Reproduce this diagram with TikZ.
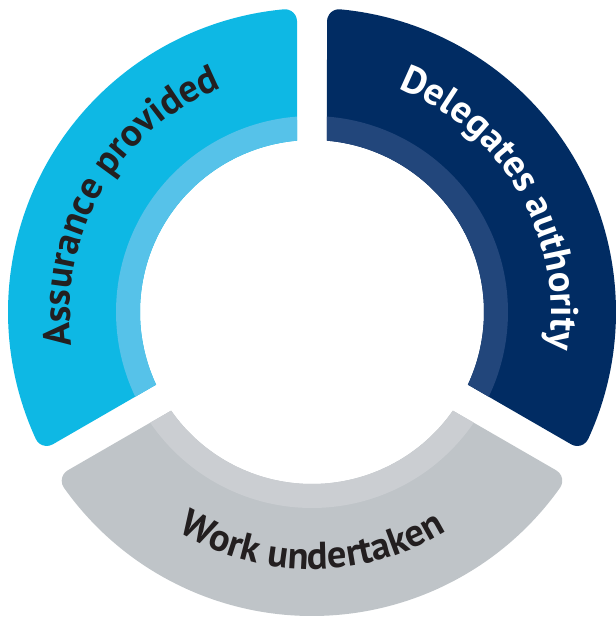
\documentclass[tikz,border=0pt]{standalone}
\usepackage{fontspec}
\newfontfamily\segfont{PT Sans}
\usetikzlibrary{decorations.text}
\definecolor{lblue}{HTML}{0EB8E4}
\definecolor{lblueband}{HTML}{56C2E9}
\definecolor{dblue}{HTML}{012C63}
\definecolor{dblueband}{HTML}{22467B}
\definecolor{grayseg}{HTML}{BFC4C8}
\definecolor{grayband}{HTML}{CBCED2}
\definecolor{txtdark}{HTML}{231F20}
\newcommand\labfont{\segfont\bfseries\fontsize{38.5}{42}\selectfont}
% #1 start gap angle, #2 end gap angle, #3 main colour, #4 band colour
\newcommand\drawseg[4]{%
  \fill[#3] ({#1+5.003}:172pt) -- ({#1+2.953}:291.14pt)
     arc[start angle={#1-90}, end angle={#1+5.305}, radius=12pt]
     arc[start angle={#1+5.305}, end angle={#2-5.305}, radius=304pt]
     arc[start angle={#2-5.305}, end angle={#2+90}, radius=12pt]
     -- ({#2-5.003}:172pt)
     arc[start angle={#2-5.003}, end angle={#1+5.003}, radius=172pt] -- cycle;
  \fill[#4] ({#1+5.003}:172pt) -- ({#1+4.390}:196pt)
     arc[start angle={#1+4.390}, end angle={#2-4.390}, radius=196pt]
     -- ({#2-5.003}:172pt)
     arc[start angle={#2-5.003}, end angle={#1+5.003}, radius=172pt] -- cycle;
}
\tikzset{
  arclabel/.style={decorate, decoration={text along path, text align=center, text color=#1}}
}
\begin{document}
\begin{tikzpicture}
\useasboundingbox (-312pt,-307pt) rectangle (304pt,312pt);
\coordinate (c) at (0,0);
\drawseg{-30}{90}{dblue}{dblueband}
\drawseg{90}{210}{lblue}{lblueband}
\drawseg{210}{330}{grayseg}{grayband}
\path[arclabel=txtdark, decoration={text={|\labfont|Assurance provided}}]
  (210:242pt) arc[start angle=210, end angle=90, radius=242pt];
\path[arclabel=white, decoration={text={|\labfont|Delegates authority}}]
  (90:239pt) arc[start angle=90, end angle=-30, radius=239pt];
\path[arclabel=txtdark, decoration={text={|\labfont|Work undertaken}}]
  (210:257pt) arc[start angle=210, end angle=330, radius=257pt];
\end{tikzpicture}
\end{document}
